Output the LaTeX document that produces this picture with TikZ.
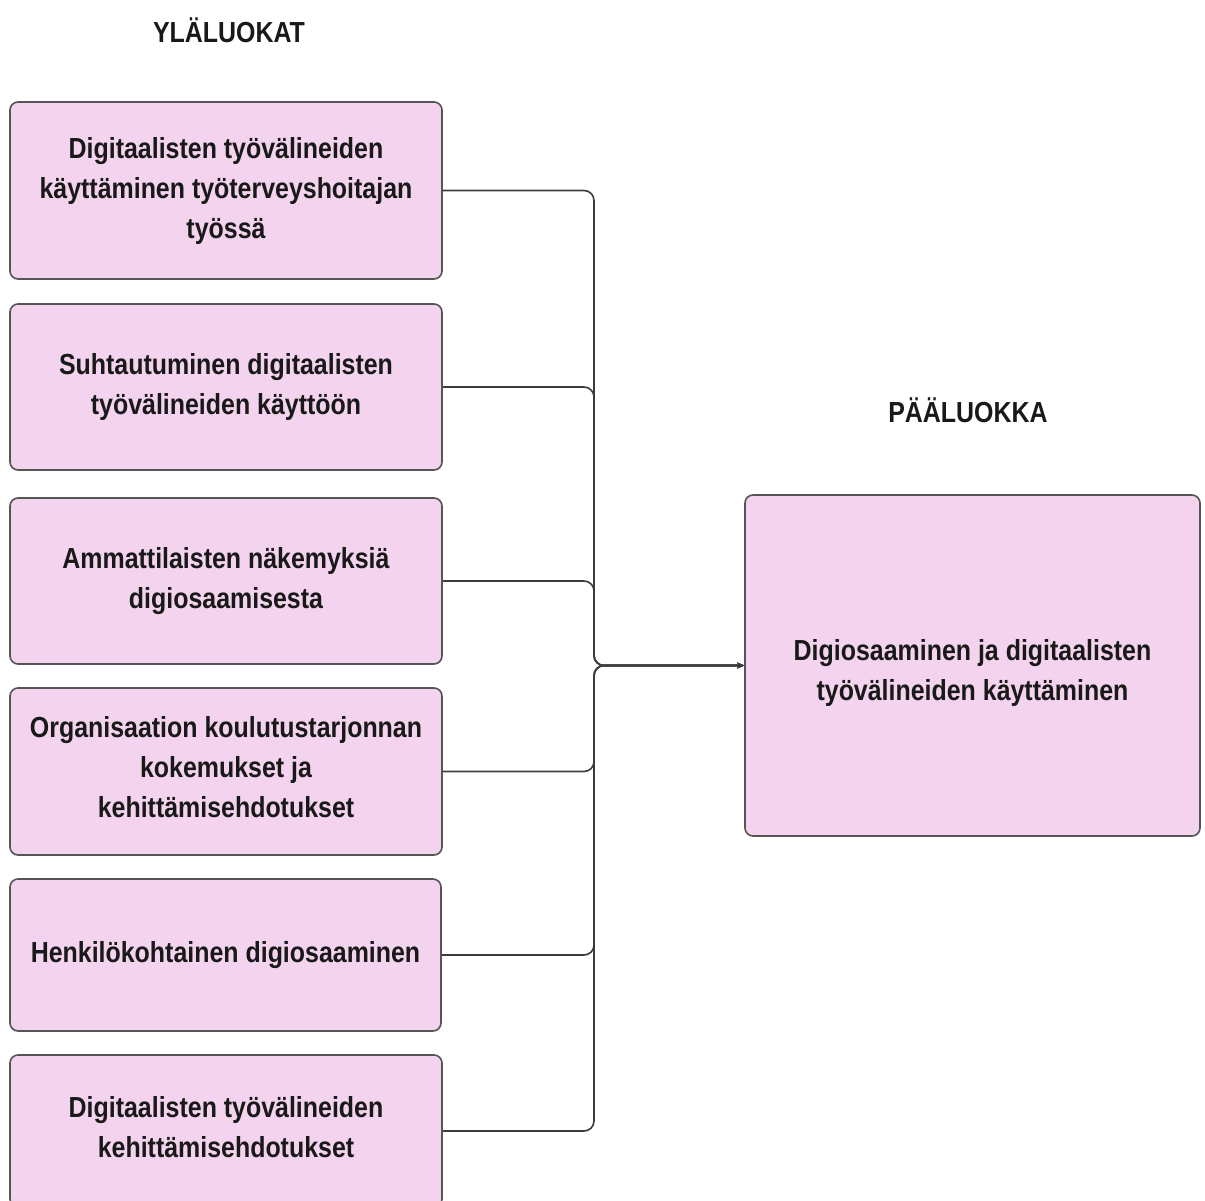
\documentclass[tikz,border=0pt]{standalone}
\usepackage{fontspec}
\setmainfont{Liberation Sans}[FakeStretch=0.86]
\usetikzlibrary{arrows.meta}
\definecolor{boxfill}{RGB}{243,211,237}
\definecolor{boxline}{RGB}{85,85,85}
\definecolor{connline}{RGB}{60,60,60}
\newcommand{\shiftedtext}[2]{\raisebox{#1}[\height][\depth]{\begin{tabular}{@{}c@{}}#2\end{tabular}}}
\begin{document}
\begin{tikzpicture}[x=1pt,y=-1pt,
  cat/.style={draw=boxline, line width=1.6pt, fill=boxfill, rounded corners=8pt,
    minimum width=432pt, align=center, font=\fontsize{29}{40}\selectfont\bfseries,
    inner sep=0pt, text=black!90},
  head/.style={font=\fontsize{29}{40}\selectfont\bfseries, text=black!90, inner sep=0pt},
  conn/.style={draw=connline, line width=1.6pt, rounded corners=10pt,
    -{Stealth[length=7pt,width=6pt]}}]
\useasboundingbox (0,0) rectangle (1205,1200);
\node[head] (h1) at (229,30) {YLÄLUOKAT};
\node[head] (h2) at (968,410) {PÄÄLUOKKA};
\node[cat, minimum height=177pt] (b1) at (226,190.5) {Digitaalisten työvälineiden\\käyttäminen työterveyshoitajan\\työssä};
\node[cat, minimum height=166pt] (b2) at (226,387) {Suhtautuminen digitaalisten\\työvälineiden käyttöön};
\node[cat, minimum height=166pt] (b3) at (226,581) {Ammattilaisten näkemyksiä\\digiosaamisesta};
\node[cat, minimum height=167pt] (b4) at (226,771.5) {\shiftedtext{2pt}{Organisaation koulutustarjonnan\\kokemukset ja\\kehittämisehdotukset}};
\node[cat, minimum height=152pt, minimum width=431pt] (b5) at (225.5,955) {Henkilökohtainen digiosaaminen};
\node[cat, minimum height=152pt] (b6) at (226,1131) {\shiftedtext{2pt}{Digitaalisten työvälineiden\\kehittämisehdotukset}};
\node[cat, minimum width=455pt, minimum height=341pt] (main) at (972.5,665.5) {\shiftedtext{-7pt}{Digiosaaminen ja digitaalisten\\työvälineiden käyttäminen}};
\coordinate (bus) at (594,665.5);
\foreach \b in {b1,b2,b3,b4,b5,b6}{
  \draw[conn] (\b.east) -| (bus) -- (main.west);
}
\end{tikzpicture}
\end{document}
